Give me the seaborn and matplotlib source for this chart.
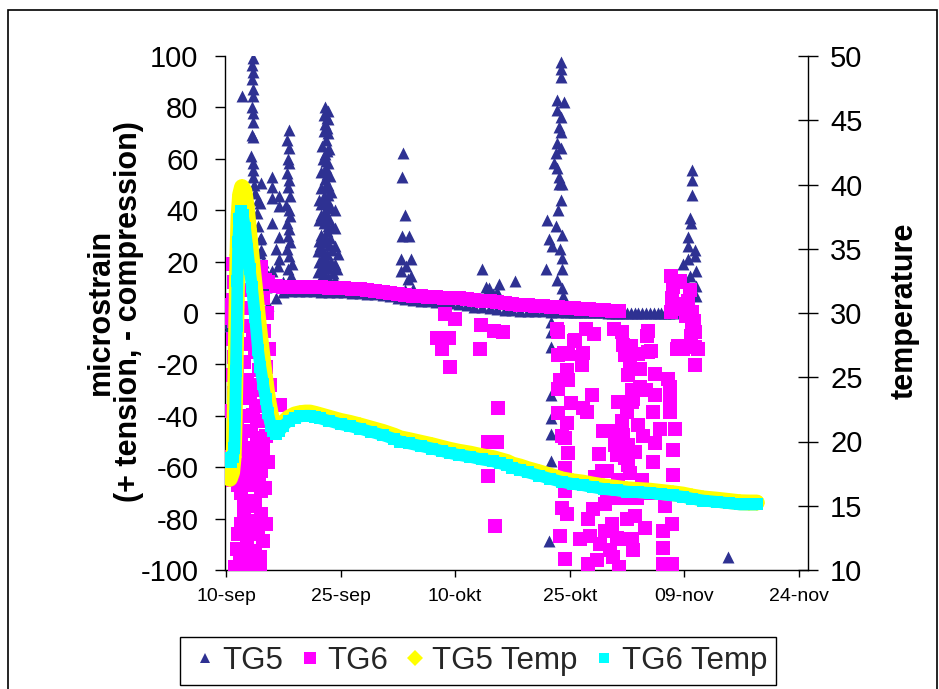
import matplotlib
matplotlib.use("Agg")
import matplotlib.pyplot as plt
from matplotlib.lines import Line2D
from matplotlib.patches import Rectangle
import pandas as pd
import seaborn as sns

# ---------------- data (days since 10-sep) ----------------
START = pd.Timestamp("2005-09-10")
tick_days = [0, 15, 30, 45, 60, 75]
tick_labels = ["10-sep", "25-sep", "10-okt", "25-okt", "09-nov", "24-nov"]
series_names = ["TG5", "TG6", "TG5 Temp", "TG6 Temp"]

# TG5 strain: quiet baseline readings
tg5_base = [(5.5, 3.0), (6.5, 6.0), (7.5, 8.0), (8.5, 8.5), (9.5, 8.5), (10.5, 8.5), (11.5, 8.5),
            (12.5, 8.3), (13.5, 8.3), (14.5, 8.0), (15.5, 8.0), (16.5, 7.8), (17.5, 7.6), (18.5, 7.4),
            (19.5, 7.2), (20.5, 7.0), (21.5, 6.5), (22.5, 6.0), (23.5, 5.5), (24.5, 5.0), (25.5, 4.8),
            (26.5, 4.6), (27.5, 4.4), (28.5, 4.2), (29.5, 4.0), (30.5, 3.6), (31.5, 3.0), (32.5, 2.5),
            (33.5, 2.2), (34.5, 2.0), (35.5, 1.6), (36.5, 1.2), (37.5, 1.0), (38.5, 0.8), (39.5, 0.8),
            (40.5, 0.7), (41.5, 0.6), (42.5, 0.5), (43.5, 0.5), (44.5, 0.4), (45.5, 0.4), (46.5, 0.3),
            (47.5, 0.3), (48.5, 0.2), (49.5, 0.2), (50.5, 0.1), (51.5, 0.1), (52.5, 0.0), (53.5, 0.0),
            (54.5, 0.0), (55.5, -0.1), (56.5, -0.1), (57.5, 0.0), (58.5, 0.0), (59.5, 0.3),
            (45.0, 0.4), (46.0, 0.3), (47.0, 0.3), (48.0, 0.2), (49.0, 0.2), (50.0, 0.1), (51.0, 0.1),
            (52.0, 0.0), (53.0, 0.0), (54.0, 0.0), (55.0, -0.1), (56.0, -0.1), (57.0, 0.0), (58.0, 0.0),
            (59.0, 0.2)]

# TG5 strain: spikes
tg5_spikes = [(0.0, -3), (0.2, -4), (0.5, -5),
              (2.05, 84.3), (3.5, 99.4), (3.45, 96.5), (3.55, 93.7), (3.4, 91.0), (3.5, 87.3), (3.6, 84.3),
              (3.45, 80.0), (3.5, 77.7), (3.6, 74.4), (3.35, 69.2), (3.55, 68.6), (3.3, 61.1), (3.5, 58.3),
              (3.6, 55.7), (3.55, 53.1), (3.7, 49.9), (3.8, 46.7), (4.2, 44.1), (4.0, 38.9), (4.2, 33.8),
              (4.4, 28.6), (4.4, 23.5), (4.6, 18.3), (5.0, 14.4), (4.6, 50.5), (4.5, 42.8), (4.6, 29.3),
              (4.6, 24.7), (4.8, 19.7), (4.8, 15.8), (6.0, 53.1), (6.0, 49.2), (6.0, 44.7), (7.0, 45.4),
              (7.0, 41.5), (6.0, 35.2), (7.0, 29.4), (7.0, 20.9), (6.0, 16.4), (6.8, 18.2), (5.5, 14.3),
              (6.5, 25.0), (5.3, 10.0), (7.4, 12.0),
              (8.2, 71.2), (8.0, 67.3), (8.3, 64.2), (8.1, 60.0), (8.3, 58.4), (8.0, 54.5), (8.3, 51.8),
              (8.1, 49.0), (8.4, 45.4), (7.9, 42.0), (8.2, 40.0), (8.4, 37.6), (8.0, 35.0), (8.3, 32.5),
              (8.1, 30.0), (8.4, 27.5), (8.0, 25.0), (8.3, 22.2), (8.6, 19.0), (8.1, 17.0), (8.5, 14.4),
              (8.2, 11.0), (9.0, 9.0),
              (13.0, 80.2), (13.3, 78.5), (12.8, 77.0), (13.4, 75.5), (13.0, 73.5), (12.8, 71.0),
              (13.4, 70.0), (13.1, 67.5), (12.6, 65.0), (13.5, 64.0), (13.0, 62.0), (12.7, 60.0),
              (13.4, 58.5), (13.1, 56.5), (12.5, 55.0), (13.6, 53.5), (12.9, 52.0), (13.3, 50.0),
              (12.4, 48.5), (13.7, 47.0), (12.8, 45.5), (13.2, 44.0), (12.5, 42.5), (13.8, 41.0),
              (13.0, 39.5), (12.4, 38.0), (13.5, 36.5), (12.8, 35.0), (13.9, 33.5), (13.2, 32.0),
              (12.5, 30.5), (13.6, 29.0), (12.9, 27.5), (12.3, 26.0), (13.9, 24.5), (13.2, 23.0),
              (12.6, 21.5), (13.7, 20.0), (12.9, 18.5), (12.4, 17.0), (14.0, 15.5), (13.3, 14.0),
              (12.7, 12.5), (13.8, 11.0), (12.4, 9.5), (13.1, 8.5),
              (12.2, 12.0), (12.2, 20.0), (12.2, 28.0), (12.2, 36.0), (12.2, 44.0), (14.3, 13.0),
              (14.3, 19.0), (14.3, 26.0), (14.3, 33.0), (14.3, 40.0), (14.5, 17.0), (14.6, 23.0),
              (12.0, 16.0), (12.0, 24.0), (13.0, 10.0), (13.5, 12.0), (12.8, 15.0), (13.4, 17.5),
              (13.1, 21.0), (12.7, 24.0), (13.5, 26.5), (13.0, 29.5), (13.3, 34.0), (12.9, 37.5),
              (13.4, 42.0), (12.9, 43.0), (13.3, 46.0), (12.9, 49.0), (13.2, 54.0), (13.1, 59.0),
              (13.2, 63.0), (13.2, 72.0), (13.2, 76.0),
              (23.2, 62.2), (23.0, 53.1), (23.4, 38.3), (23.1, 29.9), (24.0, 29.9), (22.9, 20.9),
              (24.2, 20.9), (22.9, 16.4), (23.6, 18.3), (23.8, 13.1), (24.2, 14.4), (23.5, 9.0), (24.5, 9.5),
              (33.5, 17.0), (34.0, 10.0), (34.4, 9.9), (35.7, 11.2), (35.5, 8.0), (37.9, 12.5), (35.0, 7.5),
              (43.9, 97.6), (43.9, 95.0), (43.9, 91.8), (43.4, 82.7), (44.3, 82.1), (43.4, 78.9),
              (43.9, 76.3), (43.6, 72.4), (43.9, 70.5), (43.4, 66.0), (43.9, 64.1), (43.2, 62.1),
              (43.0, 58.3), (43.4, 56.3), (43.6, 53.1), (43.6, 50.3), (44.0, 50.3), (42.0, 36.3),
              (42.3, 28.6), (42.7, 26.0), (44.0, 30.5), (44.0, 21.5), (41.9, 17.0), (44.0, 17.0),
              (44.0, 9.9), (44.1, 6.7), (43.5, 40.0), (43.8, 44.0), (43.2, 34.0), (43.7, 25.0), (43.3, 13.0),
              (42.5, -3.6), (42.5, -7.5), (42.5, -13.2), (42.5, -32.0), (42.5, -41.0), (42.5, -47.2),
              (42.5, -57.7), (42.3, -88.7),
              (61.0, 55.7), (61.0, 51.8), (61.0, 45.8), (60.7, 37.1), (60.9, 35.2), (60.5, 29.4),
              (60.5, 26.0), (61.4, 24.7), (60.5, 20.9), (61.4, 22.2), (59.8, 18.9), (61.6, 16.4),
              (60.7, 14.4), (61.6, 10.6), (60.7, 8.0), (61.6, 6.7), (60.2, 12.0), (61.0, 3.0),
              (65.7, -95.1)]

# TG6 strain: quiet baseline readings
tg6_base = [(4.5, 15.0), (5.5, 12.0), (6.5, 10.5), (7.5, 10.3), (8.5, 10.2), (9.5, 10.2), (10.5, 10.1),
            (11.5, 10.0), (12.5, 10.0), (13.5, 9.9), (14.5, 9.8), (15.5, 9.6), (16.5, 9.4), (17.5, 9.2),
            (18.5, 8.8), (19.5, 8.4), (20.5, 8.0), (21.5, 7.6), (22.5, 7.2), (23.5, 6.9), (24.5, 6.7),
            (25.5, 6.5), (26.5, 6.3), (27.5, 6.1), (28.5, 6.0), (29.5, 5.9), (30.5, 5.7), (31.5, 5.4),
            (32.5, 5.1), (33.5, 4.8), (34.5, 4.5), (35.5, 4.2), (36.5, 3.9), (37.5, 3.6), (38.5, 3.3),
            (39.5, 3.0), (40.5, 2.8), (41.5, 2.6), (42.5, 2.4), (43.5, 2.2), (44.5, 2.0), (45.5, 1.8),
            (46.5, 1.6), (47.5, 1.4), (48.5, 1.2), (49.5, 1.0), (50.5, 0.8), (51.5, 0.6)]

# TG6 strain: scattered readings
tg6_scatter = [(-0.1, 0.5), (0.2, -1.5), (0.4, 1.0), (0.5, -2.0), (0.15, 3.0),
               (0.9, 19.0), (1.0, 12.0), (0.9, 5.0), (1.0, -3.0), (0.9, -10.0), (1.0, -17.0),
               (0.9, -24.0), (1.0, -31.0), (0.8, -38.0), (1.1, -45.0), (0.9, -52.0),
               (2.3, 9.0), (2.5, 2.0), (2.4, -5.0), (2.6, -12.0), (2.3, -19.0), (2.7, -26.0), (2.2, -33.0),
               (4.6, 18.0), (5.1, 13.0), (4.9, 6.0), (5.4, 0.0), (5.0, -7.0), (5.6, -14.0), (5.2, -21.0),
               (5.8, -28.0), (5.4, -35.0), (5.9, -42.0),
               (1.4, -21.7), (1.3, -26.0), (3.1, -28.0), (3.1, -33.0), (3.5, -39.7), (2.7, -46.0),
               (4.0, -48.7), (3.1, -52.6), (4.9, -52.6), (4.2, -57.7), (2.7, -61.6), (4.6, -61.6),
               (1.6, -66.8), (3.1, -66.8), (4.6, -69.3), (2.3, -74.5), (3.8, -73.2), (2.3, -78.4),
               (4.6, -78.4), (3.8, -80.9), (1.6, -86.1), (2.7, -87.4), (4.9, -88.7), (2.3, -92.5),
               (3.8, -92.5), (1.8, -97.1), (3.3, -96.4), (7.07, -35.8), (0.9, -65.0), (0.6, -56.0),
               (1.2, -99.0), (2.0, -99.0), (3.9, -99.0),
               (1.5, -45.0), (2.0, -50.0), (2.5, -55.0), (3.5, -58.0), (4.3, -65.0), (2.0, -70.0),
               (3.4, -75.0), (4.2, -84.0), (1.9, -82.0), (3.0, -83.0), (1.4, -92.0), (2.9, -95.0),
               (4.4, -95.0), (3.6, -86.0), (1.8, -60.0), (4.0, -42.0), (3.3, -46.0), (5.2, -48.0),
               (5.5, -58.0), (5.1, -68.0), (5.3, -82.0), (3.0, -100.0), (4.5, -100.0), (2.6, -40.0),
               (3.9, -36.0), (4.6, -30.0), (4.3, -22.0), (3.8, -15.0), (3.5, -8.0),
               (28.7, -0.4), (30.0, -2.3), (27.6, -9.8), (29.2, -9.9), (28.3, -13.9), (29.3, -21.0),
               (33.4, -4.8), (35.1, -7.1), (33.2, -14.1), (35.6, -37.1), (34.3, -50.0), (35.5, -50.0),
               (34.3, -63.4), (35.2, -82.8), (36.3, -7.4),
               (43.5, -7.4), (45.7, -10.7), (43.5, -16.5), (44.8, -15.9), (44.6, -22.3), (43.7, -26.2),
               (44.8, -26.2), (43.5, -29.4), (46.6, -17.0), (46.6, -20.4), (47.9, -32.0), (47.3, -38.4),
               (43.5, -39.0), (44.6, -42.9), (44.0, -48.0), (44.4, -48.7), (44.8, -54.5), (44.4, -60.3),
               (44.4, -69.2), (44.0, -75.8), (44.6, -78.4), (43.7, -86.6), (44.4, -95.8), (47.4, -80.3),
               (47.6, -86.6), (47.4, -97.7), (48.6, -96.3), (49.6, -74.5), (49.9, -71.9), (49.6, -84.7),
               (50.3, -92.4), (50.7, -95.1), (51.2, -87.4), (52.0, -88.0), (53.1, -88.0), (53.3, -92.4),
               (49.9, -61.5), (50.9, -51.3), (52.0, -47.4), (52.6, -51.3), (51.2, -55.2), (52.2, -56.5),
               (52.6, -59.0), (52.9, -62.2), (51.3, -64.8), (52.2, -71.9), (53.8, -71.9), (51.2, -71.9),
               (50.5, -46.1), (51.3, -34.5), (53.1, -34.5), (52.5, -38.4), (53.9, -43.6), (53.3, -33.3),
               (53.1, -30.0), (54.2, -28.7), (52.6, -24.2), (52.9, -21.0), (54.2, -21.7), (52.2, -16.5),
               (53.9, -15.9), (52.0, -12.6), (51.8, -7.5), (55.1, -8.8), (55.2, -15.2), (56.2, -23.6),
               (56.2, -32.0), (55.9, -38.4), (56.2, -50.7), (55.9, -57.8), (54.8, -83.5), (57.2, -84.8),
               (57.2, -91.3), (57.2, -97.7), (58.4, -97.7), (58.4, -82.2), (58.5, -53.2), (58.1, -38.4),
               (58.1, -33.3), (57.9, -25.5), (58.1, -28.7), (58.5, -63.1), (59.0, -13.9), (60.1, -13.3),
               (61.4, -13.3), (61.4, -20.4), (61.4, -7.5), (46.7, -37.1), (49.3, -46.1), (49.2, -61.5),
               (48.0, -76.4), (43.3, -6.2), (45.5, -10.8), (47.1, -6.2), (48.2, -8.0), (44.2, -15.4),
               (46.7, -15.4), (50.8, -6.2), (53.0, -12.8), (55.2, -7.0), (55.6, -14.7), (59.2, -12.8),
               (60.9, -8.9), (61.8, -13.9), (59.8, -13.9),
               (48.3, -64.0), (49.0, -90.0), (51.5, -99.0), (52.5, -80.0), (53.6, -79.0), (54.5, -65.0),
               (55.5, -70.0), (56.8, -45.0), (57.5, -75.0), (50.5, -82.0), (51.8, -42.0), (53.5, -54.0),
               (54.6, -48.0), (55.0, -30.0), (58.8, -45.0), (46.3, -88.0), (45.2, -35.0), (48.8, -55.0),
               (58.3, 14.4), (58.5, 10.0), (58.4, 6.0), (59.0, 3.0), (58.2, 0.5), (59.5, 1.5),
               (60.2, -1.0), (61.0, 0.4), (60.5, 4.5), (61.3, -3.0), (59.2, 12.0), (60.8, 9.0),
               (59.4, 12.4), (60.1, 3.5), (61.0, -5.4)]

# temperatures (right axis)
tg5_temp = [(0.0, 18.3), (0.3, 17.6), (0.5, 17.1), (0.8, 17.6), (1.0, 18.8), (1.1, 21.0), (1.2, 24.0),
            (1.3, 27.5), (1.4, 31.0), (1.5, 34.5), (1.65, 37.5), (1.85, 39.2), (2.1, 39.8), (2.4, 39.5),
            (2.7, 38.3), (3.0, 36.5), (3.3, 34.7), (3.6, 33.0), (3.9, 31.3), (4.3, 29.0), (4.6, 27.5),
            (4.9, 26.0), (5.2, 24.6), (5.5, 23.3), (5.9, 22.0), (6.2, 21.2), (6.6, 20.95), (7.0, 21.05),
            (7.5, 21.45), (8.2, 21.85), (9.0, 22.1), (9.7, 22.2), (10.4, 22.25), (11.0, 22.25),
            (11.7, 22.15), (12.3, 22.05), (13.5, 21.85), (15.0, 21.6), (16.2, 21.45), (17.5, 21.25),
            (19.0, 21.0), (20.5, 20.75), (22.0, 20.45), (22.8, 20.25), (24.0, 20.1), (25.5, 19.9),
            (27.0, 19.7), (28.3, 19.5), (29.3, 19.35), (30.5, 19.2), (32.0, 19.05), (33.5, 18.85),
            (35.0, 18.7), (35.9, 18.55), (36.8, 18.4), (37.5, 18.2), (38.5, 18.05), (39.5, 17.85),
            (41.0, 17.6), (42.4, 17.35), (44.0, 17.05), (45.4, 16.9), (46.7, 16.8), (48.0, 16.65),
            (49.5, 16.5), (51.2, 16.38), (52.5, 16.28), (54.0, 16.22), (55.5, 16.17), (57.0, 16.07),
            (58.5, 15.97), (59.8, 15.87), (61.0, 15.72), (62.5, 15.57), (64.3, 15.47), (65.8, 15.37),
            (67.3, 15.27), (68.5, 15.25), (69.5, 15.25)]

tg6_temp = [(0.0, 18.5), (0.3, 18.7), (0.6, 18.4), (0.9, 18.8), (1.1, 19.5), (1.2, 22.0), (1.3, 25.5),
            (1.4, 29.0), (1.5, 32.5), (1.6, 35.5), (1.75, 37.3), (1.95, 37.9), (2.2, 37.6), (2.5, 36.6),
            (2.8, 35.0), (3.1, 33.4), (3.4, 32.0), (3.8, 29.7), (4.2, 27.1), (4.5, 25.8), (4.85, 24.5),
            (5.2, 23.3), (5.5, 22.2), (5.9, 21.2), (6.2, 20.8), (6.6, 20.6), (7.0, 20.8), (7.5, 21.2),
            (8.2, 21.6), (9.0, 21.85), (9.7, 21.95), (10.4, 22.0), (11.0, 22.0), (11.7, 21.9),
            (12.3, 21.8), (13.5, 21.6), (15.0, 21.35), (16.2, 21.2), (17.5, 21.0), (19.0, 20.75),
            (20.5, 20.5), (22.0, 20.2), (22.8, 20.0), (24.0, 19.85), (25.5, 19.65), (27.0, 19.45),
            (28.3, 19.25), (29.3, 19.1), (30.5, 18.95), (32.0, 18.8), (33.5, 18.6), (35.0, 18.45),
            (35.9, 18.3), (36.8, 18.15), (37.5, 17.95), (38.5, 17.8), (39.5, 17.6), (41.0, 17.35),
            (42.4, 17.1), (44.0, 16.85), (45.4, 16.7), (46.7, 16.6), (48.0, 16.45), (49.5, 16.3),
            (51.2, 16.2), (52.5, 16.1), (54.0, 16.05), (55.5, 16.0), (57.0, 15.9), (58.5, 15.8),
            (59.8, 15.7), (61.0, 15.55), (62.5, 15.4), (64.3, 15.3), (65.8, 15.2), (67.3, 15.1),
            (68.5, 15.1), (69.5, 15.1)]

# ---------------- styling ----------------
NAVY = "#2E3192"
MAGENTA = "#FF00FF"
YELLOW = "#FFFF00"
CYAN = "#00FFFF"

sns.set_theme(style="white")
plt.rcParams["font.family"] = ["Liberation Sans", "DejaVu Sans"]
plt.rcParams["axes.unicode_minus"] = False


def to_frame(points, col):
    df = pd.DataFrame(points, columns=["day", col])
    df["date"] = START + pd.to_timedelta(df["day"], unit="D")
    return df


df5 = to_frame(tg5_base + tg5_spikes, "strain")
df6 = to_frame(tg6_base + tg6_scatter, "strain")
dt5 = to_frame(tg5_temp, "temp")
dt6 = to_frame(tg6_temp, "temp")

W, H = 939, 689
fig = plt.figure(figsize=(W / 100, H / 100), dpi=100)
fig.patch.set_facecolor("white")
ax = fig.add_axes([225 / W, 1 - 570 / H, 583 / W, 514 / H])
ax2 = ax.twinx()

sns.scatterplot(data=df5, x="date", y="strain", ax=ax, marker="^", s=74, color=NAVY,
                edgecolor=NAVY, linewidth=0, legend=False, zorder=3)
sns.scatterplot(data=df6, x="date", y="strain", ax=ax, marker="s", s=88, color=MAGENTA,
                edgecolor=MAGENTA, linewidth=0, legend=False, zorder=4)

sns.lineplot(data=dt5, x="date", y="temp", ax=ax2, color=YELLOW, lw=11.5, sort=False,
             estimator=None, marker="D", markersize=8.5, markeredgewidth=0, legend=False)
sns.lineplot(data=dt6, x="date", y="temp", ax=ax2, color=CYAN, lw=8.5, sort=False,
             estimator=None, marker="s", markersize=8.5, markeredgewidth=0, legend=False)

# axes ranges and ticks
tick_dates = [START + pd.Timedelta(days=d) for d in tick_days]
ax.set_xlim(START + pd.Timedelta(days=-0.13), START + pd.Timedelta(days=76.2))
ax.set_xticks(tick_dates)
ax.set_xticklabels(tick_labels)
ax.set_ylim(-100, 100)
ax.set_yticks(list(range(-100, 101, 20)))
ax.set_yticks(list(range(-80, 81, 20)), minor=True)
ax2.set_ylim(10, 50)
ax2.set_yticks(list(range(10, 51, 5)))

ax.tick_params(axis="y", which="major", left=True, direction="out", length=7, width=1,
               color="black", pad=12, labelsize=21, labelcolor="black")
ax.tick_params(axis="y", which="minor", left=False, length=0)
ax.tick_params(axis="x", which="major", bottom=True, direction="out", length=5, width=1,
               color="black", pad=8, labelsize=14, labelcolor="black")
ax2.tick_params(axis="y", which="major", right=True, direction="inout", length=14, width=1,
                color="black", pad=9, labelsize=21, labelcolor="black")

ax.set_axisbelow(True)
ax.grid(False)
ax.yaxis.grid(True, which="minor", color="#3a3a3a", lw=1.0)
ax2.grid(False)

for name in ["top", "right"]:
    ax.spines[name].set_visible(False)
for name in ["top", "left", "bottom"]:
    ax2.spines[name].set_visible(False)
for sp in [ax.spines["left"], ax.spines["bottom"], ax2.spines["right"]]:
    sp.set_color("black")
    sp.set_linewidth(1.0)

ax.set_xlabel("")
ax.set_ylabel("microstrain\n(+ tension, - compression)", fontsize=22, fontweight="bold",
              color="black", linespacing=0.95)
ax.yaxis.set_label_coords(-0.1887, 0.502)
ax.yaxis.label.set_va("center")
ax.yaxis.label.set_ha("center")
ax2.set_ylabel("temperature", fontsize=22, fontweight="bold", color="black")
ax2.yaxis.set_label_coords(1.166, 0.504)
ax2.yaxis.label.set_va("center")
ax2.yaxis.label.set_ha("center")

# legend
handles = [
    Line2D([], [], ls="none", marker="^", color=NAVY, markersize=6.5, markeredgewidth=0),
    Line2D([], [], ls="none", marker="s", color=MAGENTA, markersize=8.5, markeredgewidth=0),
    Line2D([], [], ls="none", marker="D", color=YELLOW, markersize=8.0, markeredgewidth=0),
    Line2D([], [], ls="none", marker="s", color=CYAN, markersize=6.5, markeredgewidth=0),
]
leg = fig.legend(handles, series_names, loc="center", bbox_to_anchor=(478 / W, 1 - 661 / H),
                 ncol=4, fontsize=22.5, frameon=True, fancybox=False, framealpha=1,
                 edgecolor="black", handlelength=1.0, handletextpad=0.06,
                 columnspacing=0.35, borderpad=0.3)
leg.get_frame().set_linewidth(1.0)

# outer chart border
fig.add_artist(Rectangle((8 / W, -0.05), (937 - 8) / W, 1.05 - 10 / H, transform=fig.transFigure,
                         fill=False, edgecolor="black", lw=1.2))

fig.savefig("out.png", dpi=100)
